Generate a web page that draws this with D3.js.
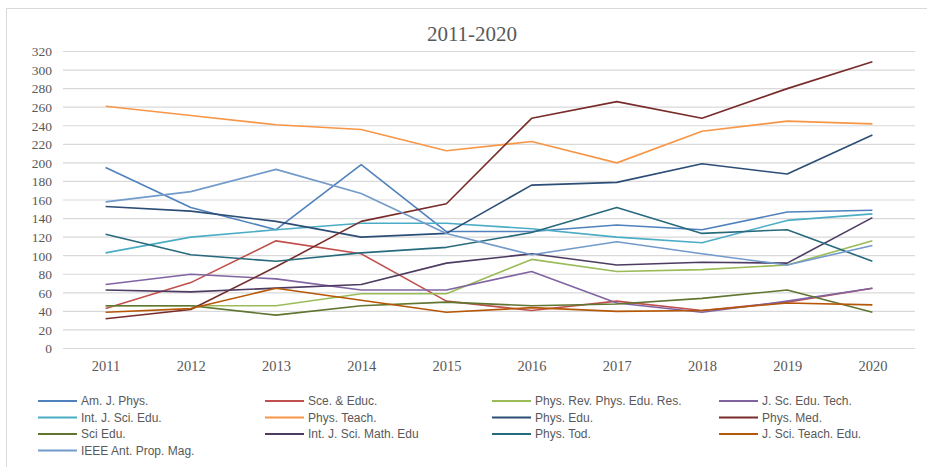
<!DOCTYPE html>
<html>
<head>
<meta charset="utf-8">
<script src="https://cdn.jsdelivr.net/npm/d3@7"></script>
<style>
  html, body { margin: 0; padding: 0; background: #fff; }
  svg { display: block; }
</style>
</head>
<body>
<svg id="chart" width="927" height="467"></svg>
<script>
// values, one array per journal
const years = [2011, 2012, 2013, 2014, 2015, 2016, 2017, 2018, 2019, 2020]
const yTicks = [0, 20, 40, 60, 80, 100, 120, 140, 160, 180, 200, 220, 240, 260, 280, 300, 320]

const amJPhys        = [195, 152, 128, 198, 126, 126, 133, 128, 147, 149]
const sceEduc        = [43, 71, 116, 102, 51, 41, 51, 41, 50, 65]
const physRevPhysEdu = [46, 46, 46, 59, 59, 96, 83, 85, 90, 116]
const jScEduTech     = [69, 80, 75, 63, 63, 83, 49, 39, 51, 65]
const intJSciEdu     = [103, 120, 128, 135, 135, 129, 120, 114, 138, 145]
const physTeach      = [261, 251, 241, 236, 213, 223, 200, 234, 245, 242]
const physEdu        = [153, 148, 137, 120, 124, 176, 179, 199, 188, 230]
const physMed        = [32, 42, 88, 137, 156, 248, 266, 248, 280, 309]
const sciEdu         = [46, 46, 36, 46, 50, 46, 48, 54, 63, 39]
const intJSciMathEdu = [63, 61, 65, 69, 92, 102, 90, 93, 92, 141]
const physTod        = [123, 101, 94, 103, 109, 125, 152, 124, 128, 94]
const jSciTeachEdu   = [39, 43, 65, 52, 39, 44, 40, 41, 49, 47]
const ieeeAntProp    = [158, 169, 193, 167, 124, 101, 115, 102, 90, 111]

const seriesNames = [
  'Am. J. Phys.', 'Sce. & Educ.', 'Phys. Rev. Phys. Edu. Res.', 'J. Sc. Edu. Tech.',
  'Int. J. Sci. Edu.', 'Phys. Teach.', 'Phys. Edu.', 'Phys. Med.',
  'Sci Edu.', 'Int. J. Sci. Math. Edu', 'Phys. Tod.', 'J. Sci. Teach. Edu.',
  'IEEE Ant. Prop. Mag.'
]
const seriesValues = [
  amJPhys, sceEduc, physRevPhysEdu, jScEduTech,
  intJSciEdu, physTeach, physEdu, physMed,
  sciEdu, intJSciMathEdu, physTod, jSciTeachEdu,
  ieeeAntProp
]
const colors = [
  '#4F81BD', '#C0504D', '#9BBB59', '#8064A2',
  '#4BACC6', '#F79646', '#2C4D75', '#772C2A',
  '#5F7530', '#4D3B62', '#276A7C', '#B65708',
  '#729ACA'
]

const series = seriesNames.map((name, i) => ({
  name: name,
  color: colors[i],
  values: years.map((y, j) => ({ year: y, value: seriesValues[i][j] }))
}))

const serif = '"Liberation Serif", "Times New Roman", serif'
const svg = d3.select('#chart')

// outer chart frame (only top and left edges fall inside the window)
svg.append('rect')
  .attr('x', 6.5)
  .attr('y', 8.5)
  .attr('width', 960)
  .attr('height', 500)
  .attr('fill', 'none')
  .attr('stroke', '#D9D9D9')
  .attr('stroke-width', 1)

const x = d3.scalePoint()
  .domain(years)
  .range([63, 915])
  .padding(0.5)

const y = d3.scaleLinear()
  .domain([0, 320])
  .range([348.5, 51.5])

// gridlines
svg.append('g')
  .attr('class', 'grid')
  .selectAll('line').data(yTicks)
  .enter().append('line')
    .attr('x1', 63)
    .attr('x2', 915)
    .attr('y1', d => y(d))
    .attr('y2', d => y(d))
    .attr('stroke', '#D9D9D9')
    .attr('stroke-width', 1.2)

// y axis labels
const yAxis = svg.append('g')
  .attr('transform', 'translate(63,0)')
  .call(d3.axisLeft(y).tickValues(yTicks).tickSize(0).tickPadding(11))
yAxis.attr('font-family', null).attr('font-size', null)
yAxis.select('.domain').remove()
yAxis.selectAll('text')
  .style('font-family', serif)
  .style('font-size', '13.5px')
  .attr('fill', '#595959')

// x axis labels
const xAxis = svg.append('g')
  .attr('transform', 'translate(0,348.5)')
  .call(d3.axisBottom(x).tickSize(0).tickPadding(12).tickFormat(d3.format('d')))
xAxis.attr('font-family', null).attr('font-size', null)
xAxis.select('.domain').remove()
xAxis.selectAll('text')
  .style('font-family', serif)
  .style('font-size', '14.5px')
  .attr('fill', '#595959')

// lines
const line = d3.line()
  .x(d => x(d.year))
  .y(d => y(d.value))

svg.append('g')
  .attr('class', 'lines')
  .selectAll('path').data(series)
  .enter().append('path')
    .attr('d', d => line(d.values))
    .attr('fill', 'none')
    .attr('stroke', d => d.color)
    .attr('stroke-width', 1.6)
    .attr('stroke-linejoin', 'round')

// title
svg.append('text')
  .attr('x', 472)
  .attr('y', 41)
  .attr('text-anchor', 'middle')
  .style('font-family', serif)
  .style('font-size', '21px')
  .attr('fill', '#595959')
  .text('2011-2020')

// legend, 4 columns, row-major
const legend = svg.append('g').attr('class', 'legend')
const legendItem = legend.selectAll('g').data(series)
  .enter().append('g')
    .attr('transform', (d, i) => `translate(${38 + (i % 4) * 227},${401 + Math.floor(i / 4) * 16.5})`)

legendItem.append('line')
  .attr('x1', 0)
  .attr('x2', 39)
  .attr('y1', 0)
  .attr('y2', 0)
  .attr('stroke', d => d.color)
  .attr('stroke-width', 2)

legendItem.append('text')
  .attr('x', 43)
  .attr('dy', '0.35em')
  .style('font-family', '"Liberation Sans", Arial, sans-serif')
  .style('font-size', '12px')
  .attr('fill', '#595959')
  .text(d => d.name)
</script>
</body>
</html>
